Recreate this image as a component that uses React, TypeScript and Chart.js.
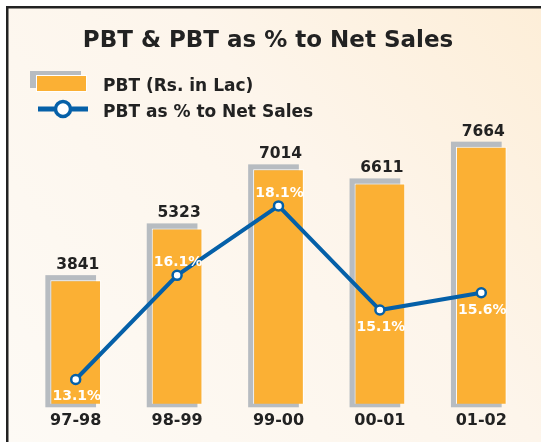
import { useEffect, useRef } from "react";
import { Chart, registerables } from "chart.js";

Chart.register(...registerables);

const categories = ["97-98", "98-99", "99-00", "00-01", "01-02"];
const pbtValues = [3841, 5323, 7014, 6611, 7664];
const pbtPercent = [13.1, 16.1, 18.1, 15.1, 15.6];
const percentLabelAbove = [false, true, true, false, false];
const titleText = "PBT & PBT as % to Net Sales";
const barLegend = "PBT (Rs. in Lac)";
const lineLegend = "PBT as % to Net Sales";

const FONT = "'DejaVu Sans', sans-serif";
const BAR = "#fbb034";
const SHADOW = "#b7bcc1";
const BLUE = "#0560a8";
const DARK = "#222222";

const decorPlugin = {
  id: "decor",
  beforeDraw(chart: any) {
    const ctx = chart.ctx;
    const W = chart.width;
    const H = chart.height;
    ctx.save();
    ctx.fillStyle = "#ffffff";
    ctx.fillRect(0, 0, W, H);
    const g = ctx.createLinearGradient(6, H, W, 6);
    g.addColorStop(0, "#fdfaf5");
    g.addColorStop(0.6, "#fdf5eb");
    g.addColorStop(1, "#fdeed8");
    ctx.fillStyle = g;
    ctx.fillRect(6, 6, W - 6, H - 6);
    ctx.fillStyle = DARK;
    ctx.fillRect(6, 6, W - 6, 2.5);
    ctx.fillRect(6, 6, 2.5, H - 6);

    // title
    ctx.fillStyle = DARK;
    ctx.font = `bold 23px ${FONT}`;
    ctx.textAlign = "center";
    ctx.textBaseline = "alphabetic";
    ctx.fillText(titleText, 268, 47);

    // legend: bar
    ctx.fillStyle = SHADOW;
    ctx.fillRect(30, 71, 51, 17);
    ctx.fillStyle = BAR;
    ctx.fillRect(36, 75, 51, 17);
    ctx.strokeStyle = "#ffffff";
    ctx.lineWidth = 1;
    ctx.strokeRect(36.5, 75.5, 50, 16);
    // legend: line
    ctx.strokeStyle = BLUE;
    ctx.lineWidth = 5;
    ctx.beginPath();
    ctx.moveTo(38, 109);
    ctx.lineTo(88, 109);
    ctx.stroke();
    ctx.beginPath();
    ctx.arc(63, 109, 7.5, 0, Math.PI * 2);
    ctx.fillStyle = "#ffffff";
    ctx.fill();
    ctx.lineWidth = 3.5;
    ctx.stroke();

    ctx.fillStyle = DARK;
    ctx.font = `bold 17px ${FONT}`;
    ctx.textAlign = "left";
    ctx.fillText(barLegend, 103, 91);
    ctx.fillText(lineLegend, 103, 117);
    ctx.restore();
  },
  beforeDatasetsDraw(chart: any) {
    const ctx = chart.ctx;
    const meta = chart.getDatasetMeta(1);
    ctx.save();
    ctx.fillStyle = SHADOW;
    meta.data.forEach((el: any) => {
      const { x, y, base, width } = el.getProps(["x", "y", "base", "width"], true);
      ctx.fillRect(x - width / 2 - 5, y - 5, width, base - y - 2);
    });
    ctx.restore();
  },
  afterDatasetsDraw(chart: any) {
    const ctx = chart.ctx;
    ctx.save();
    ctx.textAlign = "center";
    ctx.textBaseline = "alphabetic";
    const barMeta = chart.getDatasetMeta(1);
    ctx.fillStyle = DARK;
    ctx.font = `bold 15.5px ${FONT}`;
    barMeta.data.forEach((el: any, i: number) => {
      ctx.fillText(String(pbtValues[i]), el.x + 2, el.y - 11);
    });
    const lineMeta = chart.getDatasetMeta(0);
    ctx.fillStyle = "#ffffff";
    ctx.font = `bold 14px ${FONT}`;
    lineMeta.data.forEach((el: any, i: number) => {
      const yy = percentLabelAbove[i] ? el.y - 9 : el.y + 21;
      ctx.fillText(pbtPercent[i].toFixed(1) + "%", el.x + 1, yy);
    });
    ctx.restore();
  },
};

export default function App() {
  const ref = useRef<HTMLCanvasElement | null>(null);
  useEffect(() => {
    if (!ref.current) return;
    const chart = new Chart(ref.current, {
      type: "bar",
      data: {
        labels: categories,
        datasets: [
          {
            type: "line",
            label: lineLegend,
            data: pbtPercent,
            yAxisID: "y2",
            borderColor: BLUE,
            borderWidth: 4,
            pointRadius: 4.5,
            pointBorderWidth: 2.5,
            pointBackgroundColor: "#ffffff",
            pointBorderColor: BLUE,
            tension: 0,
            order: 0,
          } as any,
          {
            type: "bar",
            label: barLegend,
            data: pbtValues,
            yAxisID: "y",
            backgroundColor: BAR,
            borderColor: "#ffffff",
            borderWidth: 1,
            barPercentage: 0.5,
            categoryPercentage: 1,
            order: 1,
          } as any,
        ],
      },
      options: {
        responsive: false,
        animation: false,
        layout: { padding: { top: 100, left: 25, right: 9, bottom: 5 } },
        plugins: {
          legend: { display: false },
          title: { display: false },
          tooltip: { enabled: false },
        },
        scales: {
          x: {
            grid: { display: false, drawTicks: false },
            border: { display: false },
            ticks: {
              color: DARK,
              padding: 7,
              font: { family: FONT, size: 16, weight: "bold" },
            },
          },
          y: { display: false, min: 300, max: 9000 },
          y2: { display: false, min: 12.4, max: 21.15, position: "right" },
        },
      },
      plugins: [decorPlugin],
    });
    return () => chart.destroy();
  }, []);
  return (
    <div style={{ position: "absolute", left: 0, top: 0, width: 541, height: 442 }}>
      <canvas ref={ref} width={541} height={442} />
    </div>
  );
}
